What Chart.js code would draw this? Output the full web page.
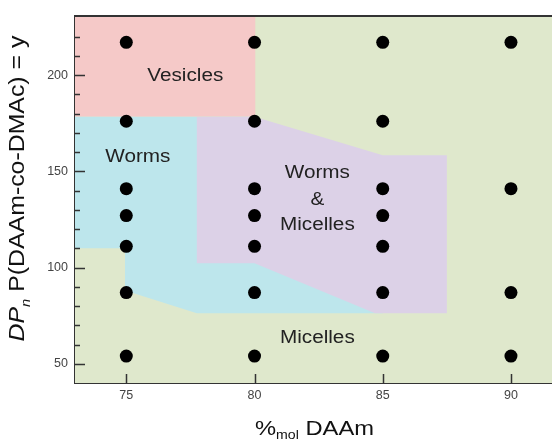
<!DOCTYPE html>
<html>
<head>
<meta charset="utf-8">
<script src="https://cdn.jsdelivr.net/npm/chart.js@4.4.1/dist/chart.umd.min.js"></script>
<style>
  html, body { margin: 0; padding: 0; background: #fff; }
  #wrap { width: 552px; height: 441px; }
</style>
</head>
<body>
<div id="wrap"><canvas id="phaseChart" width="552" height="441"></canvas></div>
<script>
// compositions that were made (%mol DAAm)
const daamPct = [75, 80, 85, 90];
// DPn of each copolymer made, one list per composition
const dpByPct = [
  [217, 176, 141, 127, 111, 87, 54],
  [217, 176, 141, 127, 111, 87, 54],
  [217, 176, 141, 127, 111, 87, 54],
  [217, 141, 87, 54]
];

const xTicks = [75, 80, 85, 90];
const yTicks = [50, 60, 70, 80, 90, 100, 110, 120, 130, 140, 150, 160, 170, 180, 190, 200, 210, 220];
const yLabelled = [50, 100, 150, 200];

// phase regions, corners as [x, y] in data units
const micellesShape = [[73, 40], [91.6, 40], [91.6, 230.7], [73, 230.7]];
const wormsShape = [[73, 178.5], [80, 178.5], [85, 76.2], [77.75, 76.2], [74.95, 88], [74.95, 110], [73, 110]];
const mixedShape = [[77.75, 178.3], [80, 178.3], [85, 158.4], [87.5, 158.4], [87.5, 76.2], [84.7, 76.2], [80, 102.2], [77.75, 102.2]];
const vesiclesShape = [[73, 230.7], [80.03, 230.7], [80.03, 178.5], [73, 178.5]];

const phaseLabels = ['Vesicles', 'Worms', 'Worms', '&', 'Micelles', 'Micelles'];
const phaseLabelX = [77.3, 75.45, 82.45, 82.45, 82.45, 82.45];
const phaseLabelY = [199.5, 157.6, 149, 135, 122, 63.4];

const FONT = '"Liberation Sans", Arial, sans-serif';

const toXY = pts => pts.map(p => ({ x: p[0], y: p[1] }));

const dots = [];
daamPct.forEach((pct, i) => {
  dpByPct[i].forEach(dp => dots.push({ x: pct, y: dp }));
});

function region(pts, color, order) {
  return {
    type: 'line',
    data: toXY(pts),
    backgroundColor: color,
    borderColor: 'rgba(0,0,0,0)',
    borderWidth: 0,
    pointRadius: 0,
    tension: 0,
    fill: 'shape',
    order: order
  };
}

// text with mixed runs (italic, subscript), stretched a bit wider like the original
function runsWidth(ctx, runs) {
  let w = 0;
  runs.forEach(r => {
    ctx.font = (r.italic ? 'italic ' : '') + r.size + 'px ' + FONT;
    w += ctx.measureText(r.text).width;
  });
  return w;
}

function drawRuns(ctx, runs, cx, cy, angle, stretch) {
  ctx.save();
  ctx.translate(cx, cy);
  ctx.rotate(angle);
  ctx.scale(stretch, 1);
  ctx.fillStyle = '#111';
  ctx.textAlign = 'left';
  ctx.textBaseline = 'alphabetic';
  let x = -runsWidth(ctx, runs) / 2;
  runs.forEach(r => {
    ctx.font = (r.italic ? 'italic ' : '') + r.size + 'px ' + FONT;
    ctx.fillText(r.text, x, r.dy || 0);
    x += ctx.measureText(r.text).width;
  });
  ctx.restore();
}

const framePlugin = {
  id: 'frame',
  afterDatasetsDraw(chart) {
    const { ctx, chartArea: a, scales: { x, y } } = chart;
    ctx.save();
    ctx.strokeStyle = '#333';
    ctx.lineWidth = 1.5;
    ctx.beginPath();
    // inward tick marks
    yTicks.forEach(v => {
      const py = Math.round(y.getPixelForValue(v)) + 0.5;
      const len = yLabelled.includes(v) ? 10 : 5;
      ctx.moveTo(a.left, py);
      ctx.lineTo(a.left + len, py);
    });
    xTicks.forEach(v => {
      const px = Math.round(x.getPixelForValue(v)) + 0.5;
      ctx.moveTo(px, a.bottom);
      ctx.lineTo(px, a.bottom - 9);
    });
    ctx.stroke();
    // top border
    ctx.lineWidth = 2;
    ctx.beginPath();
    ctx.moveTo(a.left, a.top);
    ctx.lineTo(a.right, a.top);
    ctx.stroke();

    // phase names
    ctx.fillStyle = '#222';
    ctx.font = '18px ' + FONT;
    ctx.textAlign = 'center';
    ctx.textBaseline = 'middle';
    phaseLabels.forEach((t, i) => {
      ctx.save();
      ctx.translate(x.getPixelForValue(phaseLabelX[i]), y.getPixelForValue(phaseLabelY[i]));
      ctx.scale(1.15, 1);
      ctx.fillText(t, 0, 0);
      ctx.restore();
    });
    ctx.restore();
  },
  afterDraw(chart) {
    const { ctx, chartArea: a } = chart;
    drawRuns(ctx, [
      { text: '%', size: 21 },
      { text: 'mol', size: 12.5, dy: 4 },
      { text: ' DAAm', size: 21 }
    ], (a.left + a.right) / 2 + 1, 435, 0, 1.13);
    drawRuns(ctx, [
      { text: 'DP', size: 22, italic: true },
      { text: 'n', size: 13, italic: true, dy: 6 },
      { text: ' P(DAAm-co-DMAc) = y', size: 22 }
    ], 24, 188.5, -Math.PI / 2, 1.13);
  }
};

const ctx = document.getElementById('phaseChart').getContext('2d');
new Chart(ctx, {
  type: 'scatter',
  data: {
    datasets: [
      {
        label: 'Copolymers',
        data: dots,
        backgroundColor: '#000',
        borderWidth: 0,
        pointRadius: 6.5,
        pointHoverRadius: 6.5,
        order: 0
      },
      region(vesiclesShape, '#f5c9c8', 1),
      region(mixedShape, '#dcd1e7', 2),
      region(wormsShape, '#bde6ec', 3),
      region(micellesShape, '#dfe8cc', 4)
    ]
  },
  plugins: [framePlugin],
  options: {
    responsive: false,
    animation: false,
    layout: { autoPadding: false, padding: { top: 16, right: 0, bottom: 0, left: 0 } },
    scales: {
      x: {
        type: 'linear',
        min: 73,
        max: 91.6,
        afterFit: s => { s.height = 58; },
        afterBuildTicks: s => { s.ticks = xTicks.map(v => ({ value: v })); },
        grid: { display: false, drawTicks: false },
        border: { display: true, color: '#333', width: 2 },
        ticks: {
          padding: 5,
          color: '#444',
          font: { family: FONT, size: 12.5 },
          callback: v => String(v)
        }
      },
      y: {
        min: 40,
        max: 230.7,
        afterFit: s => { s.width = 75; },
        afterBuildTicks: s => { s.ticks = yTicks.map(v => ({ value: v })); },
        grid: { display: false, drawTicks: false },
        border: { display: true, color: '#333', width: 2 },
        ticks: {
          padding: 7,
          color: '#444',
          font: { family: FONT, size: 12.5 },
          callback: v => (yLabelled.includes(v) ? String(v) : '')
        }
      }
    },
    plugins: {
      legend: { display: false },
      tooltip: { enabled: false }
    }
  }
});
</script>
</body>
</html>
